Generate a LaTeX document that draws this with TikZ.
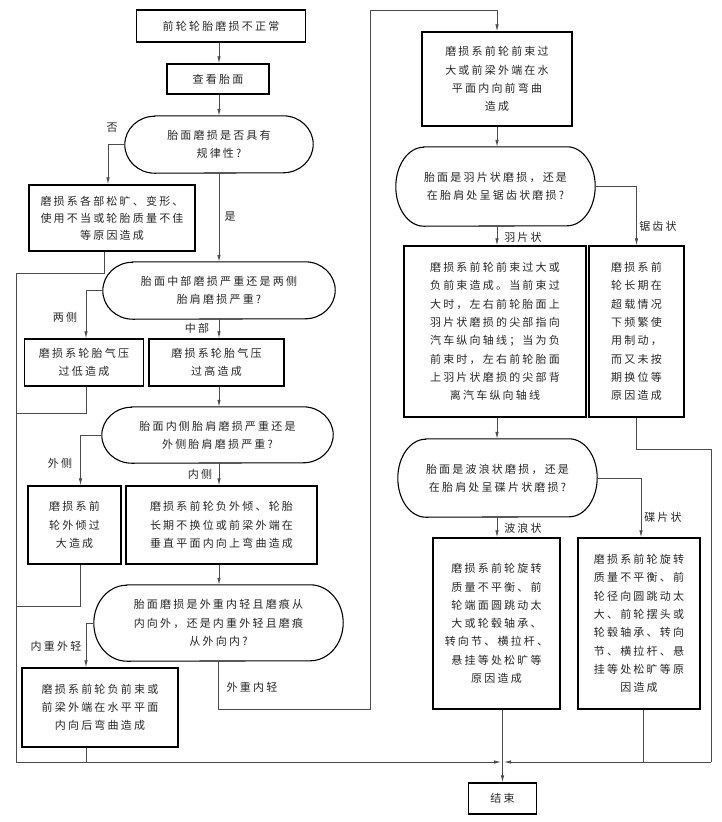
\documentclass[tikz,border=0pt]{standalone}
\usepackage{fontspec}
\setmainfont[LetterSpace=20]{Noto Sans CJK SC}
\usetikzlibrary{arrows.meta}
\tikzset{
  txt/.style={font=\fontsize{11}{18.3}\selectfont, text=black!85},
  box/.style={txt, draw=black, line width=1.4pt, align=center, inner sep=0pt},
  dtext/.style={txt, align=center, inner sep=0pt},
  dline/.style={draw=black, line width=1.1pt},
  lbl/.style={txt, inner sep=0pt},
  conn/.style={draw=black!70, line width=0.8pt},
  arr/.style={conn, -{Latex[length=7pt,width=3.5pt]}},
}
% name, x, y, w, h, a, text
\newcommand\decnode[7]{%
  \node[dtext, minimum width=#4pt, minimum height=#5pt] (#1) at (#2,#3) {#7};
  \draw[dline] ([xshift=#6pt]#1.north west) -- ([xshift=-#6pt]#1.north east)
    arc[start angle=90,end angle=-90,x radius=#6pt,y radius=#5pt/2]
    -- ([xshift=#6pt]#1.south west)
    arc[start angle=270,end angle=90,x radius=#6pt,y radius=#5pt/2] -- cycle;
}
\begin{document}
\begin{tikzpicture}[x=1pt,y=-1pt]
\useasboundingbox (0,0) rectangle (722,822);
% ---------- left column ----------
\node[box, minimum width=169pt, minimum height=32pt] (b1) at (221,26) {前轮轮胎磨损不正常};
\node[box, minimum width=102pt, minimum height=30pt] (b2) at (218,79) {查看胎面};
\decnode{d1}{219}{144.5}{188}{57}{30}{胎面磨损是否具有\\规律性?}
\node[box, minimum width=166pt, minimum height=66pt, font=\fontsize{11}{17}\selectfont] (b3) at (112,218) {磨损系各部松旷、变形、\\使用不当或轮胎质量不佳\\等原因造成};
\decnode{d2}{219}{290.5}{232}{57}{30}{胎面中部磨损严重还是两侧\\胎肩磨损严重?}
\node[box, minimum width=119pt, minimum height=47pt] (b4) at (84,362.5) {磨损系轮胎气压\\过低造成};
\node[box, minimum width=135pt, minimum height=47pt] (b5) at (216.5,362.5) {磨损系轮胎气压\\过高造成};
\decnode{d3}{217.5}{435}{231}{56}{30}{胎面内侧胎肩磨损严重还是\\外侧胎肩磨损严重?}
\node[box, minimum width=93pt, minimum height=78pt] (b6) at (74.5,525) {磨损系前\\轮外倾过\\大造成};
\node[box, minimum width=191pt, minimum height=78pt] (b7) at (221.5,525) {磨损系前轮负外倾、轮胎\\长期不换位或前梁外端在\\垂直平面内向上弯曲造成};
\decnode{d4}{218.5}{623}{249}{76}{33}{胎面磨损是外重内轻且磨痕从\\内向外，还是内重外轻且磨痕\\从外向内?}
\node[box, minimum width=156pt, minimum height=79pt] (b8) at (100,707.5) {磨损系前轮负前束或\\前梁外端在水平平面\\内向后弯曲造成};
% ---------- right column ----------
\node[box, minimum width=150pt, minimum height=94pt] (r1) at (497,79) {磨损系前轮前束过\\大或前梁外端在水\\平面内向前弯曲\\造成};
\decnode{rd1}{495.5}{186.5}{199}{79}{28}{胎面是羽片状磨损，还是\\在胎肩处呈锯齿状磨损?}
\node[box, minimum width=182pt, minimum height=171pt] (r2) at (495,331.5) {磨损系前轮前束过大或\\负前束造成。当前束过\\大时，左右前轮胎面上\\羽片状磨损的尖部指向\\汽车纵向轴线；当为负\\前束时，左右前轮胎面\\上羽片状磨损的尖部背\\离汽车纵向轴线};
\node[box, minimum width=95pt, minimum height=171pt] (r3) at (636.5,331.5) {磨损系前\\轮长期在\\超载情况\\下频繁使\\用制动，\\而又未按\\期换位等\\原因造成};
\decnode{rd2}{497.5}{478}{199}{78}{28}{胎面是波浪状磨损，还是\\在胎肩处呈碟片状磨损?}
\node[box, minimum width=127pt, minimum height=171pt] (r4) at (496.5,623.5) {磨损系前轮旋转\\质量不平衡、前\\轮端面圆跳动太\\大或轮毂轴承、\\转向节、横拉杆、\\悬挂等处松旷等\\原因造成};
\node[box, minimum width=122pt, minimum height=171pt] (r5) at (639,623.5) {磨损系前轮旋转\\质量不平衡、前\\轮径向圆跳动太\\大、前轮摆头或\\轮毂轴承、转向\\节、横拉杆、悬\\挂等处松旷等原\\因造成};
\node[box, minimum width=68pt, minimum height=31pt] (end) at (502.5,798.5) {结束};
% ---------- helper coordinates ----------
\coordinate (J) at (502.5,762);
\coordinate (s1) at (16,273);
\coordinate (s2) at (16,413);
\coordinate (s3) at (16,606);
\coordinate (s4) at (16,762);
\coordinate (o1) at (370,709);
\coordinate (o2) at (370,10);
\coordinate (rs1) at (711,449);
\coordinate (rs2) at (711,762);
% ---------- connectors: left column ----------
\draw[arr] (b1.south -| d1) -- (b2.north -| d1);
\draw[arr] (b2.south -| d1) -- (d1.north);
\draw[arr] (d1.west) -| ([xshift=-4pt]b3.north);
\draw[arr] (d1.south) -- (d2.north);
\draw[conn] ([xshift=-8pt]b3.south) |- (s1);
\draw[arr] (s1) -- (s4) -- ([xshift=-1.5pt]J);
\draw[arr] (d2.west) -| ([xshift=2pt]b4.north);
\draw[arr] (d2.south) -- (b5.north -| d2);
\draw[conn] ([xshift=2pt]b4.south) |- (s2);
\draw[arr] (b5.south -| d2) -- (d3.north -| d2);
\draw[arr] (d3.west) -| ([xshift=6pt]b6.north);
\draw[arr] (d3.south -| d2) -- (b7.north -| d2);
\draw[conn] ([xshift=6pt]b6.south) |- (s3);
\draw[arr] (b7.south -| d2) -- (d4.north -| d2);
\draw[arr] (d4.west) -| ([xshift=-14pt]b8.north);
\draw[conn] ([xshift=-14pt]b8.south) -- ([xshift=-14pt]b8.south |- J);
\draw[arr] (d4.south) |- (o1) -- (o2) -| (r1.north);
% ---------- connectors: right column ----------
\draw[arr] (r1.south) -- (rd1.north -| r1);
\draw[arr] (rd1.east) -| (r3.north);
\draw[arr] (rd1.south -| r1) -- (r2.north -| r1);
\draw[arr] (r2.south -| r1) -- (rd2.north -| r1);
\draw[conn] (r3.south) |- (rs1) -- (rs2);
\draw[arr] (rs2) -- ([xshift=1.5pt]J);
\draw[arr] (rd2.east) -| ([xshift=2pt]r5.north);
\draw[arr] (rd2.south -| r1) -- (r4.north -| r1);
\draw[conn] ([xshift=4pt]r5.south) -- ([xshift=4pt]r5.south |- J);
\draw[arr] (r4.south -| end) -- (end.north);
% ---------- labels ----------
\node[lbl] (lno) at (112,128) {否};
\node[lbl] (lyes) at (230,217) {是};
\node[lbl] (l2a) at (65,317) {两侧};
\node[lbl] (l2b) at (197,328) {中部};
\node[lbl] (l3a) at (60,463) {外侧};
\node[lbl] (l3b) at (200,474) {内侧};
\node[lbl] (l4a) at (56,646) {内重外轻};
\node[lbl] (l4b) at (252,687) {外重内轻};
\node[lbl] (lr1a) at (523,237) {羽片状};
\node[lbl] (lr1b) at (658,226) {锯齿状};
\node[lbl] (lr2a) at (523,528) {波浪状};
\node[lbl] (lr2b) at (663,517) {碟片状};
\end{tikzpicture}
\end{document}
